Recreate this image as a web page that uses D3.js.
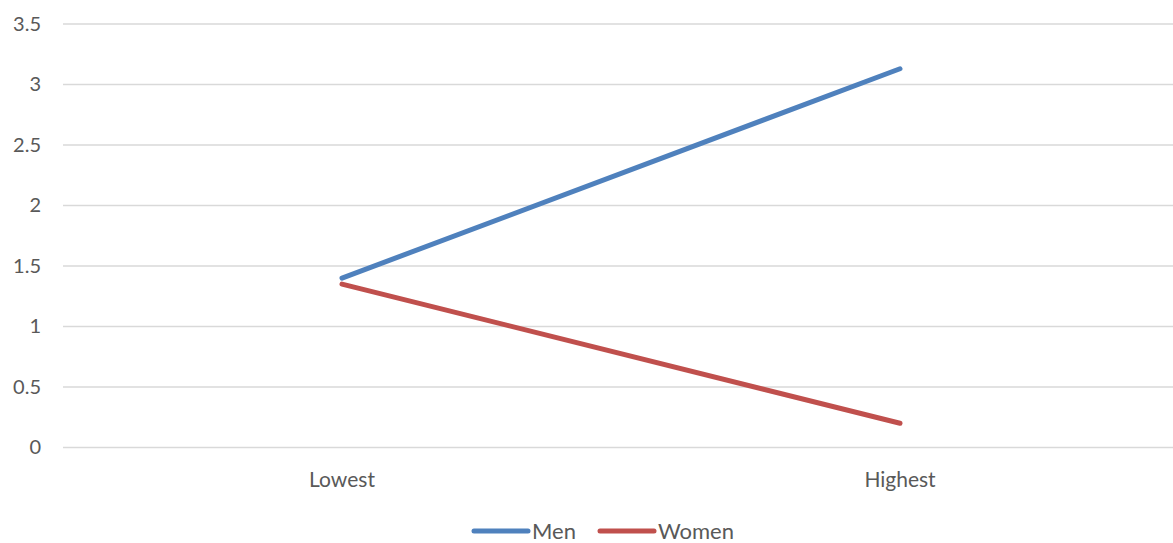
<!DOCTYPE html>
<html>
<head>
<meta charset="utf-8">
<script src="https://d3js.org/d3.v7.min.js"></script>
<style>
  body { margin: 0; background: #fff; }
  svg text { font-family: Lato, "Open Sans", sans-serif; fill: #595959; }
</style>
</head>
<body>
<script>
'use strict';

// data
const categories = ["Lowest", "Highest"];
const menValues = [1.40, 3.13];
const womenValues = [1.35, 0.20];
const yTicks = [0, 0.5, 1, 1.5, 2, 2.5, 3, 3.5];

const seriesNames = ["Men", "Women"];
const seriesColors = ["#4F81BD", "#C0504D"];

const width = 1173, height = 543;

const svg = d3.select('body').append('svg')
  .attr('width', width)
  .attr('height', height);

// scales
const x = d3.scaleBand().domain(categories).range([63, 1179]);
const y = d3.scaleLinear().domain([0, 3.5]).range([447.5, 24]);

// gridlines
svg.append('g')
  .selectAll('line')
  .data(yTicks)
  .enter()
  .append('line')
    .attr('x1', 63)
    .attr('x2', 1179)
    .attr('y1', d => y(d))
    .attr('y2', d => y(d))
    .attr('stroke', '#d9d9d9')
    .attr('stroke-width', 1.3);

// y axis labels
const yAxis = d3.axisLeft(y).tickValues(yTicks).tickSize(0).tickPadding(0)
  .tickFormat(d3.format('~g'));
const yg = svg.append('g').attr('transform', 'translate(41,0)').call(yAxis);
yg.select('.domain').remove();
yg.selectAll('text').style('font-size', '20px').attr('dy', '0.3em')
  .style('font-family', 'Lato, sans-serif').attr('fill', '#595959');

// x axis labels
const xAxis = d3.axisBottom(x).tickSize(0).tickPadding(0);
const xg = svg.append('g').attr('transform', 'translate(0,487)').call(xAxis);
xg.select('.domain').remove();
xg.selectAll('text').style('font-size', '21px').attr('dy', '0').attr('y', 0)
  .style('font-family', 'Lato, sans-serif').attr('fill', '#595959');

// lines
const line = d3.line()
  .x((d, i) => x(categories[i]) + x.bandwidth() / 2)
  .y(d => y(d));

[menValues, womenValues].forEach((vals, i) => {
  svg.append('path')
    .datum(vals)
    .attr('d', line)
    .attr('fill', 'none')
    .attr('stroke', seriesColors[i])
    .attr('stroke-width', 5)
    .attr('stroke-linecap', 'round');
});

// legend
const legendX = [474, 600];
seriesNames.forEach((name, i) => {
  const g = svg.append('g').attr('transform', `translate(${legendX[i]},531)`);
  g.append('line')
    .attr('x1', 0).attr('x2', 54)
    .attr('stroke', seriesColors[i])
    .attr('stroke-width', 5)
    .attr('stroke-linecap', 'round');
  g.append('text')
    .attr('x', 58)
    .attr('dy', '0.35em')
    .style('font-size', '22px')
    .text(name);
});
</script>
</body>
</html>
